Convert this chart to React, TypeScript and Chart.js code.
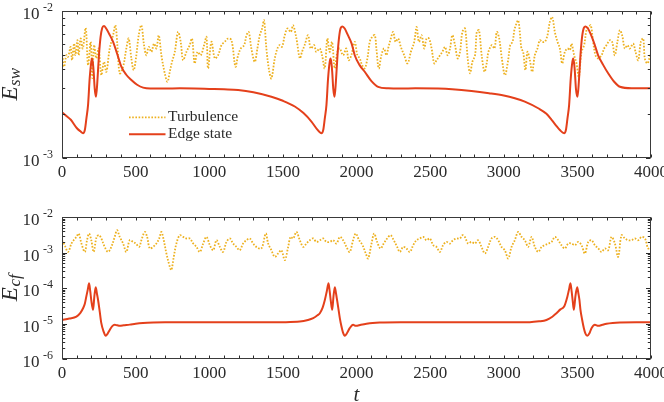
import React, { useEffect, useRef } from 'react';
import { Chart, registerables } from 'chart.js';

Chart.register(...registerables);

const FONT = '"Liberation Serif", "Times New Roman", serif';
const INK = '#2b2b2b';
const TURB_COLOR = '#EDB120';
const EDGE_COLOR = '#E4401B';

// x axis
const X_MIN = 0;
const X_MAX = 4000;
const xTickValues = [0, 500, 1000, 1500, 2000, 2500, 3000, 3500, 4000];
const xTickLabels = ['0', '500', '1000', '1500', '2000', '2500', '3000', '3500', '4000'];
const X_MINOR_STEP = 100;

// y axes
const topYMin = 1e-3;
const topYMax = 1e-2;
const topYTicks = [1e-3, 1e-2];
const topYExps = ['-3', '-2'];
const botYMin = 1e-6;
const botYMax = 1e-2;
const botYTicks = [1e-6, 1e-5, 1e-4, 1e-3, 1e-2];
const botYExps = ['-6', '-5', '-4', '-3', '-2'];

const legendLabels = ['Turbulence', 'Edge state'];

// Top panel: E_sw, turbulence
const turbTop: [number, number][] = [
  [0, 5.27e-3], [14, 4.18e-3], [30, 5.01e-3], [41, 4.88e-3], [59, 5.7e-3], [68, 4.63e-3], [82, 6.01e-3],
  [91, 5.01e-3], [105, 6.33e-3], [113, 5.0e-3], [127, 6.5e-3], [141, 5.56e-3], [161, 7.67e-3], [177, 4.28e-3],
  [195, 6.17e-3], [206, 3.5e-3], [218, 5.86e-3], [233, 4.76e-3], [249, 5.56e-3], [267, 3.66e-3], [285, 4.51e-3],
  [301, 3.86e-3], [324, 5.56e-3], [347, 6.84e-3], [363, 8.0e-3], [376, 5.86e-3], [392, 3.77e-3], [415, 4.18e-3],
  [437, 5.56e-3], [453, 6.5e-3], [471, 4.76e-3], [487, 3.96e-3], [505, 5.01e-3], [521, 6.84e-3], [539, 8.0e-3],
  [557, 5.86e-3], [573, 5.0e-3], [589, 5.7e-3], [607, 5.27e-3], [625, 6.0e-3], [641, 5.56e-3], [657, 6.84e-3],
  [675, 5.0e-3], [698, 3.77e-3], [716, 3.3e-3], [732, 3.86e-3], [747, 4.51e-3], [766, 5.27e-3], [788, 7.2e-3],
  [806, 6.17e-3], [822, 4.63e-3], [845, 5.27e-3], [867, 5.86e-3], [883, 6.5e-3], [901, 4.4e-3], [920, 5.27e-3],
  [942, 5.0e-3], [965, 5.86e-3], [981, 6.66e-3], [992, 4.07e-3], [1015, 6.17e-3], [1038, 4.76e-3], [1060, 5.0e-3],
  [1083, 5.86e-3], [1105, 6.17e-3], [1128, 6.5e-3], [1151, 6.33e-3], [1178, 4.18e-3], [1196, 5.0e-3], [1214, 5.56e-3],
  [1237, 5.86e-3], [1253, 6.84e-3], [1268, 7.2e-3], [1286, 5.56e-3], [1309, 4.51e-3], [1327, 5.56e-3], [1343, 6.84e-3],
  [1359, 7.6e-3], [1372, 8.65e-3], [1388, 5.56e-3], [1406, 3.96e-3], [1422, 3.48e-3], [1445, 4.76e-3], [1463, 5.56e-3],
  [1478, 5.86e-3], [1494, 5.7e-3], [1513, 6.84e-3], [1531, 7.6e-3], [1554, 7.2e-3], [1569, 8.0e-3], [1592, 6.5e-3],
  [1615, 4.76e-3], [1630, 5.27e-3], [1648, 5.86e-3], [1671, 6.84e-3], [1689, 5.56e-3], [1712, 5.86e-3], [1727, 5.27e-3],
  [1750, 5.56e-3], [1766, 5.0e-3], [1784, 4.07e-3], [1802, 6.5e-3], [1818, 5.27e-3], [1834, 6.17e-3], [1852, 4.07e-3],
  [1870, 5.27e-3], [1886, 5.56e-3], [1909, 5.0e-3], [1931, 5.56e-3], [1947, 4.63e-3], [1965, 5.0e-3], [1988, 6.17e-3],
  [2006, 5.0e-3], [2022, 4.76e-3], [2038, 4.28e-3], [2056, 4.07e-3], [2074, 4.76e-3], [2090, 6.17e-3], [2106, 6.66e-3],
  [2124, 6.84e-3], [2135, 5.56e-3], [2151, 4.07e-3], [2169, 5.0e-3], [2187, 5.56e-3], [2203, 5.0e-3], [2215, 5.56e-3],
  [2233, 6.5e-3], [2249, 7.2e-3], [2265, 6.17e-3], [2283, 6.5e-3], [2301, 5.7e-3], [2324, 5.0e-3], [2347, 4.4e-3],
  [2369, 5.27e-3], [2392, 6.17e-3], [2408, 7.79e-3], [2424, 6.17e-3], [2442, 6.84e-3], [2460, 5.56e-3], [2476, 6.5e-3],
  [2492, 6.5e-3], [2510, 5.56e-3], [2528, 4.4e-3], [2544, 4.63e-3], [2567, 5.0e-3], [2583, 5.27e-3], [2601, 5.7e-3],
  [2619, 5.0e-3], [2635, 5.56e-3], [2651, 6.84e-3], [2669, 5.86e-3], [2687, 4.76e-3], [2703, 5.27e-3], [2719, 7.2e-3],
  [2737, 7.6e-3], [2755, 4.76e-3], [2771, 3.77e-3], [2787, 4.51e-3], [2805, 5.0e-3], [2817, 7.2e-3], [2832, 7.4e-3],
  [2850, 5.0e-3], [2869, 3.86e-3], [2884, 4.4e-3], [2896, 5.27e-3], [2919, 5.86e-3], [2937, 5.56e-3], [2953, 7.2e-3],
  [2969, 6.5e-3], [2987, 4.76e-3], [3008, 3.66e-3], [3028, 4.51e-3], [3044, 5.86e-3], [3060, 6.17e-3], [3072, 7.4e-3],
  [3086, 8.2e-3], [3098, 8.65e-3], [3109, 7.2e-3], [3120, 5.56e-3], [3132, 5.27e-3], [3147, 3.96e-3], [3161, 5.27e-3],
  [3177, 4.63e-3], [3193, 3.86e-3], [3211, 5.0e-3], [3229, 5.56e-3], [3245, 6.33e-3], [3261, 6.17e-3], [3279, 6.17e-3],
  [3297, 6.84e-3], [3313, 8.42e-3], [3329, 9.1e-3], [3347, 7.2e-3], [3365, 6.17e-3], [3381, 5.56e-3], [3397, 4.4e-3],
  [3415, 5.27e-3], [3433, 5.56e-3], [3449, 5.42e-3], [3460, 6.0e-3], [3478, 5.0e-3], [3494, 4.4e-3], [3510, 3.57e-3],
  [3528, 5.27e-3], [3546, 5.86e-3], [3562, 7.4e-3], [3578, 7.79e-3], [3591, 8.0e-3], [3607, 6.17e-3], [3623, 5.0e-3],
  [3641, 4.76e-3], [3664, 5.0e-3], [3682, 5.56e-3], [3698, 5.86e-3], [3720, 6.33e-3], [3736, 6.17e-3], [3754, 5.0e-3],
  [3772, 6.17e-3], [3788, 7.4e-3], [3804, 6.84e-3], [3822, 5.56e-3], [3840, 5.86e-3], [3856, 5.56e-3], [3879, 6.0e-3],
  [3895, 5.27e-3], [3913, 4.63e-3], [3931, 6.17e-3], [3947, 6.5e-3], [3958, 4.76e-3], [3976, 4.4e-3], [3997, 5.12e-3],
];

// Top panel: E_sw, edge state
const edgeTop: [number, number][] = [
  [0, 2.05e-3], [30, 1.93e-3], [60, 1.82e-3], [100, 1.6e-3], [125, 1.52e-3], [143, 1.476e-3], [155, 1.55e-3],
  [166, 1.87e-3], [177, 2.3e-3], [188, 3.48e-3], [199, 4.51e-3], [204, 4.76e-3], [210, 4.4e-3], [215, 3.86e-3],
  [222, 2.98e-3], [231, 2.61e-3], [240, 3.3e-3], [251, 5.0e-3], [262, 6.66e-3], [273, 7.67e-3], [285, 7.91e-3],
  [300, 7.6e-3], [320, 7.0e-3], [347, 6.17e-3], [375, 5.1e-3], [403, 4.18e-3], [435, 3.7e-3], [471, 3.39e-3],
  [510, 3.15e-3], [551, 3.01e-3], [600, 2.97e-3], [700, 2.97e-3], [800, 2.98e-3], [900, 2.97e-3], [1000, 2.95e-3],
  [1100, 2.93e-3], [1196, 2.9e-3], [1300, 2.8e-3], [1422, 2.61e-3], [1500, 2.45e-3], [1581, 2.24e-3], [1640, 2.02e-3],
  [1694, 1.77e-3], [1730, 1.58e-3], [1762, 1.476e-3], [1774, 1.55e-3], [1785, 1.87e-3], [1796, 2.3e-3],
  [1807, 3.48e-3], [1818, 4.51e-3], [1824, 4.76e-3], [1830, 4.4e-3], [1835, 3.86e-3], [1842, 2.98e-3],
  [1851, 2.61e-3], [1860, 3.3e-3], [1871, 5.0e-3], [1882, 6.66e-3], [1893, 7.67e-3], [1905, 7.85e-3],
  [1920, 7.6e-3], [1940, 6.9e-3], [1967, 6.0e-3], [1988, 5.0e-3], [2020, 4.3e-3], [2056, 3.86e-3], [2100, 3.35e-3],
  [2147, 3.05e-3], [2215, 2.98e-3], [2300, 2.97e-3], [2400, 2.98e-3], [2554, 2.97e-3], [2650, 2.94e-3],
  [2781, 2.86e-3], [2900, 2.76e-3], [3000, 2.66e-3], [3075, 2.55e-3], [3143, 2.42e-3], [3234, 2.18e-3],
  [3290, 2.0e-3], [3325, 1.82e-3], [3360, 1.64e-3], [3381, 1.55e-3], [3410, 1.476e-3], [3422, 1.55e-3],
  [3433, 1.87e-3], [3444, 2.3e-3], [3455, 3.48e-3], [3466, 4.51e-3], [3472, 4.76e-3], [3478, 4.4e-3],
  [3483, 3.86e-3], [3490, 2.98e-3], [3501, 2.61e-3], [3510, 3.3e-3], [3521, 5.0e-3], [3532, 6.66e-3],
  [3544, 7.67e-3], [3556, 7.85e-3], [3572, 7.6e-3], [3592, 6.9e-3], [3615, 6.0e-3], [3641, 5.0e-3],
  [3675, 4.3e-3], [3709, 3.77e-3], [3750, 3.3e-3], [3789, 3.05e-3], [3868, 2.98e-3], [4000, 2.98e-3],
];

// Bottom panel: E_cf, turbulence
const turbBot: [number, number][] = [
  [0, 2.22e-3], [18, 1.61e-3], [41, 1.04e-3], [64, 1.79e-3], [79, 2.22e-3], [98, 2.75e-3], [113, 3.42e-3],
  [132, 1.79e-3], [155, 1.04e-3], [170, 2.22e-3], [184, 3.42e-3], [199, 2.22e-3], [215, 1.04e-3], [235, 2.75e-3],
  [252, 3.07e-3], [267, 2.48e-3], [290, 1.44e-3], [313, 1.04e-3], [335, 1.44e-3], [358, 2.75e-3], [374, 4.24e-3],
  [392, 2.75e-3], [415, 1.79e-3], [437, 1.04e-3], [460, 2.22e-3], [483, 1.99e-3], [501, 1.79e-3], [524, 1.44e-3],
  [539, 2.22e-3], [562, 3.8e-3], [578, 2.75e-3], [596, 1.3e-3], [619, 1.44e-3], [641, 1.79e-3], [660, 2.48e-3],
  [675, 3.8e-3], [691, 2.22e-3], [709, 9.4e-4], [732, 3.97e-4], [743, 3.2e-4], [759, 7.55e-4], [777, 1.79e-3],
  [800, 3.07e-3], [823, 2.75e-3], [845, 2.48e-3], [868, 2.48e-3], [891, 1.79e-3], [913, 1.44e-3], [936, 1.04e-3],
  [959, 1.79e-3], [981, 2.75e-3], [1004, 1.61e-3], [1027, 1.16e-3], [1049, 2.22e-3], [1072, 1.44e-3], [1094, 1.04e-3],
  [1117, 1.99e-3], [1140, 2.48e-3], [1162, 1.79e-3], [1185, 1.44e-3], [1207, 1.16e-3], [1230, 1.79e-3], [1253, 2.22e-3],
  [1275, 2.48e-3], [1298, 1.79e-3], [1320, 1.44e-3], [1354, 1.3e-3], [1384, 3.42e-3], [1400, 1.79e-3], [1422, 1.16e-3],
  [1445, 7.55e-4], [1468, 9.4e-4], [1490, 1.16e-3], [1513, 6.1e-4], [1536, 1.44e-3], [1552, 2.75e-3], [1570, 2.48e-3],
  [1592, 3.8e-3], [1615, 2.22e-3], [1638, 1.44e-3], [1660, 1.79e-3], [1683, 2.22e-3], [1706, 2.48e-3], [1728, 1.99e-3],
  [1751, 2.22e-3], [1774, 2.48e-3], [1796, 1.99e-3], [1819, 1.99e-3], [1841, 2.22e-3], [1864, 1.79e-3], [1887, 2.75e-3],
  [1909, 2.22e-3], [1932, 1.44e-3], [1954, 1.04e-3], [1977, 2.22e-3], [1995, 3.42e-3], [2018, 2.22e-3], [2041, 1.61e-3],
  [2063, 9.4e-4], [2079, 6.8e-4], [2102, 1.79e-3], [2120, 3.42e-3], [2140, 1.99e-3], [2163, 1.3e-3], [2185, 1.79e-3],
  [2208, 2.48e-3], [2231, 3.07e-3], [2253, 2.22e-3], [2276, 1.44e-3], [2294, 1.04e-3], [2317, 1.44e-3], [2339, 1.3e-3],
  [2362, 1.04e-3], [2385, 1.61e-3], [2407, 2.22e-3], [2430, 2.48e-3], [2453, 2.75e-3], [2475, 2.22e-3], [2498, 2.48e-3],
  [2521, 1.61e-3], [2543, 1.44e-3], [2566, 1.04e-3], [2588, 1.61e-3], [2611, 1.99e-3], [2634, 1.79e-3], [2656, 2.22e-3],
  [2679, 2.48e-3], [2702, 2.48e-3], [2720, 3.07e-3], [2736, 2.75e-3], [2758, 1.79e-3], [2781, 1.99e-3], [2804, 1.79e-3],
  [2826, 2.22e-3], [2849, 1.44e-3], [2872, 9.4e-4], [2894, 1.44e-3], [2917, 2.48e-3], [2940, 2.75e-3], [2962, 2.22e-3],
  [2985, 1.44e-3], [3007, 1.16e-3], [3030, 6.8e-4], [3053, 1.44e-3], [3075, 2.22e-3], [3098, 3.8e-3], [3121, 2.75e-3],
  [3143, 2.22e-3], [3166, 1.44e-3], [3189, 2.75e-3], [3211, 1.44e-3], [3234, 1.04e-3], [3257, 1.44e-3], [3279, 1.61e-3],
  [3302, 1.79e-3], [3325, 1.99e-3], [3347, 2.75e-3], [3370, 2.22e-3], [3392, 1.61e-3], [3415, 1.3e-3], [3438, 1.79e-3],
  [3460, 1.79e-3], [3483, 1.61e-3], [3506, 1.99e-3], [3528, 1.61e-3], [3551, 9.4e-4], [3574, 1.99e-3], [3596, 2.22e-3],
  [3619, 1.61e-3], [3642, 1.3e-3], [3664, 1.04e-3], [3687, 1.3e-3], [3709, 1.16e-3], [3732, 2.75e-3], [3755, 1.79e-3],
  [3777, 7.55e-4], [3800, 3.07e-3], [3823, 2.48e-3], [3845, 2.22e-3], [3868, 2.22e-3], [3891, 2.48e-3], [3913, 2.22e-3],
  [3936, 2.75e-3], [3959, 2.48e-3], [3981, 1.3e-3], [4000, 1.44e-3],
];

// Bottom panel: E_cf, edge state
const edgeBot: [number, number][] = [
  [0, 1.26e-5], [50, 1.38e-5], [98, 1.57e-5], [125, 2.0e-5], [143, 2.69e-5], [155, 3.6e-5], [165, 5.7e-5],
  [175, 9.0e-5], [184, 1.355e-4], [192, 8.0e-5], [199, 4.5e-5], [211, 2.42e-5], [220, 6.0e-5], [229, 1.05e-4],
  [237, 7.0e-5], [245, 4.6e-5], [256, 2.2e-5], [267, 1.02e-5], [282, 6.0e-6], [297, 4.5e-6], [310, 5.2e-6],
  [324, 6.6e-6], [340, 8.3e-6], [358, 9.2e-6], [375, 8.9e-6], [392, 8.6e-6], [420, 8.9e-6], [460, 9.3e-6],
  [500, 9.9e-6], [550, 1.04e-5], [620, 1.07e-5], [700, 1.08e-5], [1000, 1.08e-5], [1300, 1.08e-5], [1500, 1.09e-5],
  [1615, 1.13e-5], [1670, 1.25e-5], [1706, 1.41e-5], [1735, 1.7e-5], [1751, 1.95e-5], [1770, 2.8e-5], [1785, 4.6e-5],
  [1798, 8.0e-5], [1810, 1.355e-4], [1818, 8.0e-5], [1825, 4.5e-5], [1835, 2.42e-5], [1844, 6.0e-5], [1853, 1.05e-4],
  [1861, 7.0e-5], [1868, 4.6e-5], [1875, 3.0e-5], [1887, 1.4e-5], [1898, 8.2e-6], [1908, 5.6e-6], [1920, 4.5e-6],
  [1935, 5.3e-6], [1954, 7.4e-6], [1977, 9.2e-6], [1995, 8.6e-6], [2030, 9.2e-6], [2068, 9.8e-6], [2110, 1.03e-5],
  [2158, 1.06e-5], [2300, 1.08e-5], [2700, 1.08e-5], [3177, 1.09e-5], [3240, 1.15e-5], [3290, 1.26e-5], [3330, 1.55e-5],
  [3358, 1.95e-5], [3385, 2.5e-5], [3410, 3.0e-5], [3432, 5.7e-5], [3443, 9.0e-5], [3453, 1.355e-4], [3461, 8.0e-5],
  [3468, 4.5e-5], [3476, 2.42e-5], [3487, 6.0e-5], [3499, 1.05e-4], [3507, 7.0e-5], [3514, 4.6e-5], [3521, 2.42e-5],
  [3532, 1.3e-5], [3544, 7.4e-6], [3555, 5.2e-6], [3567, 4.5e-6], [3582, 5.3e-6], [3596, 7.4e-6], [3619, 9.2e-6],
  [3642, 8.6e-6], [3670, 9.2e-6], [3698, 9.8e-6], [3740, 1.03e-5], [3789, 1.06e-5], [3900, 1.08e-5], [4000, 1.08e-5],
];

type PanelCfg = {
  yMin: number;
  yMax: number;
  yTicks: number[];
  yExps: string[];
  titleMain: string;
  titleSub: string;
  showT: boolean;
  showLegend: boolean;
};

function makeFramePlugin(cfg: PanelCfg) {
  return {
    id: 'frame',
    afterDraw(chart: any) {
      const { ctx, chartArea: a } = chart;
      const xs = chart.scales.x;
      const ys = chart.scales.y;
      const L = Math.round(a.left) + 0.5;
      const R = Math.round(a.right) - 0.5;
      const T = Math.round(a.top) + 0.5;
      const B = Math.round(a.bottom) - 0.5;
      ctx.save();
      ctx.setLineDash([]);
      ctx.strokeStyle = INK;
      ctx.lineWidth = 1;
      // ticks
      ctx.beginPath();
      const XT = 3;
      for (let t = X_MIN; t <= X_MAX; t += X_MINOR_STEP) {
        const px = Math.round(xs.getPixelForValue(t)) + 0.5;
        ctx.moveTo(px, B);
        ctx.lineTo(px, B - XT);
        ctx.moveTo(px, T);
        ctx.lineTo(px, T + XT);
      }
      const e0 = Math.round(Math.log10(cfg.yMin));
      const e1 = Math.round(Math.log10(cfg.yMax));
      for (let e = e0; e < e1; e++) {
        for (let m = 1; m < 10; m++) {
          const v = m * Math.pow(10, e);
          const py = Math.round(ys.getPixelForValue(v)) + 0.5;
          const len = m === 1 ? 4.5 : 2.7;
          ctx.moveTo(L, py);
          ctx.lineTo(L + len, py);
          ctx.moveTo(R, py);
          ctx.lineTo(R - len, py);
        }
      }
      ctx.stroke();
      // box
      ctx.strokeStyle = '#3a3a3a';
      ctx.strokeRect(L, T, R - L, B - T);

      // x tick labels
      ctx.fillStyle = INK;
      ctx.font = `17px ${FONT}`;
      ctx.textAlign = 'center';
      ctx.textBaseline = 'middle';
      xTickValues.forEach((v, i) => {
        ctx.fillText(xTickLabels[i], xs.getPixelForValue(v), a.bottom + 15);
      });

      // y tick labels 10^k
      cfg.yTicks.forEach((v, i) => {
        const py = ys.getPixelForValue(v);
        ctx.font = `17px ${FONT}`;
        ctx.textAlign = 'right';
        ctx.textBaseline = 'middle';
        ctx.fillText('10', 39.5, py + 4);
        ctx.font = `12px ${FONT}`;
        ctx.textAlign = 'left';
        ctx.fillText(cfg.yExps[i], 43, py - 3);
      });

      // y title
      ctx.save();
      const cy = (a.top + a.bottom) / 2;
      ctx.translate(16.5, cy);
      ctx.rotate(-Math.PI / 2);
      ctx.textBaseline = 'alphabetic';
      ctx.textAlign = 'left';
      const mainFont = `italic 23px ${FONT}`;
      const subFont = `italic 17px ${FONT}`;
      ctx.font = mainFont;
      const wE = ctx.measureText(cfg.titleMain).width;
      ctx.font = subFont;
      const wS = ctx.measureText(cfg.titleSub).width;
      const start = -(wE + wS) / 2;
      ctx.font = mainFont;
      ctx.fillText(cfg.titleMain, start, 0);
      ctx.font = subFont;
      ctx.fillText(cfg.titleSub, start + wE + 0.5, 3.5);
      ctx.restore();

      if (cfg.showT) {
        ctx.font = `italic 21px ${FONT}`;
        ctx.textAlign = 'center';
        ctx.textBaseline = 'alphabetic';
        ctx.fillText('t', (a.left + a.right) / 2, 200.5);
      }

      if (cfg.showLegend) {
        const x0 = 129;
        const x1 = 165.5;
        const rows = [117.3, 134.3];
        ctx.lineWidth = 1.8;
        ctx.strokeStyle = TURB_COLOR;
        ctx.setLineDash([1.6, 1.6]);
        ctx.beginPath();
        ctx.moveTo(x0, rows[0]);
        ctx.lineTo(x1, rows[0]);
        ctx.stroke();
        ctx.setLineDash([]);
        ctx.strokeStyle = EDGE_COLOR;
        ctx.lineWidth = 2;
        ctx.beginPath();
        ctx.moveTo(x0, rows[1]);
        ctx.lineTo(x1, rows[1]);
        ctx.stroke();
        ctx.fillStyle = INK;
        ctx.font = `15.5px ${FONT}`;
        ctx.textAlign = 'left';
        ctx.textBaseline = 'middle';
        ctx.fillText(legendLabels[0], 168, rows[0]);
        ctx.fillText(legendLabels[1], 168, rows[1]);
      }
      ctx.restore();
    },
  };
}

function makeConfig(
  turb: [number, number][],
  edge: [number, number][],
  cfg: PanelCfg,
  padding: { left: number; right: number; top: number; bottom: number }
): any {
  return {
    type: 'line',
    data: {
      datasets: [
        {
          label: legendLabels[1],
          data: edge.map(([x, y]) => ({ x, y })),
          borderColor: EDGE_COLOR,
          borderWidth: 2,
          pointRadius: 0,
          cubicInterpolationMode: 'monotone',
          fill: false,
        },
        {
          label: legendLabels[0],
          data: turb.map(([x, y]) => ({ x, y })),
          borderColor: TURB_COLOR,
          borderWidth: 1.8,
          borderDash: [1.6, 1.6],
          pointRadius: 0,
          tension: 0.35,
          fill: false,
        },
      ],
    },
    options: {
      animation: false,
      responsive: false,
      maintainAspectRatio: false,
      events: [],
      layout: { padding },
      plugins: { legend: { display: false }, tooltip: { enabled: false } },
      scales: {
        x: { type: 'linear', min: X_MIN, max: X_MAX, display: false },
        y: { type: 'logarithmic', min: cfg.yMin, max: cfg.yMax, display: false },
      },
    },
    plugins: [makeFramePlugin(cfg)],
  };
}

export default function App() {
  const topRef = useRef<HTMLCanvasElement>(null);
  const botRef = useRef<HTMLCanvasElement>(null);

  useEffect(() => {
    const top = new Chart(
      topRef.current as HTMLCanvasElement,
      makeConfig(
        turbTop,
        edgeTop,
        {
          yMin: topYMin,
          yMax: topYMax,
          yTicks: topYTicks,
          yExps: topYExps,
          titleMain: 'E',
          titleSub: 'sw',
          showT: false,
          showLegend: true,
        },
        { left: 62, right: 13, top: 11, bottom: 42 }
      )
    );
    const bot = new Chart(
      botRef.current as HTMLCanvasElement,
      makeConfig(
        turbBot,
        edgeBot,
        {
          yMin: botYMin,
          yMax: botYMax,
          yTicks: botYTicks,
          yExps: botYExps,
          titleMain: 'E',
          titleSub: 'cf',
          showT: true,
          showLegend: false,
        },
        { left: 62, right: 13, top: 17, bottom: 43 }
      )
    );
    return () => {
      top.destroy();
      bot.destroy();
    };
  }, []);

  return (
    <div style={{ position: 'fixed', left: 0, top: 0, width: 664, height: 402, background: '#fff' }}>
      <canvas ref={topRef} width={664} height={200} style={{ position: 'absolute', left: 0, top: 0, width: 664, height: 200 }} />
      <canvas ref={botRef} width={664} height={202} style={{ position: 'absolute', left: 0, top: 200, width: 664, height: 202 }} />
    </div>
  );
}
